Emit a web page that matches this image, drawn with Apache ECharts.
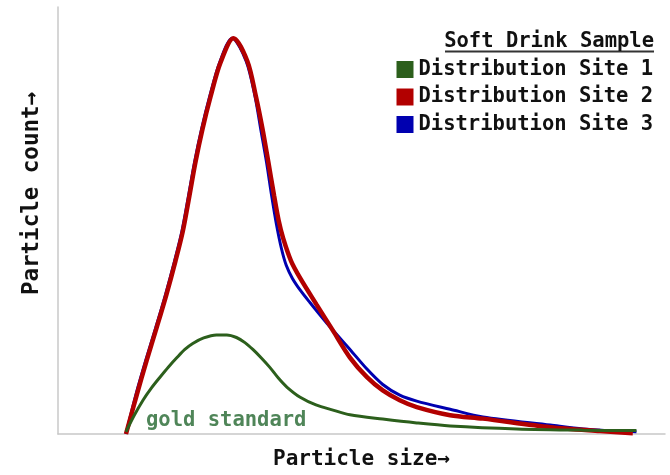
<!DOCTYPE html>
<html>
<head>
<meta charset="utf-8">
<script src="https://cdn.jsdelivr.net/npm/echarts@6/dist/echarts.min.js"></script>
<style>
html,body{margin:0;padding:0;background:#fff;}
#chart{width:670px;height:475px;}
</style>
</head>
<body>
<div id="chart"></div>
<script>
// Series names (legend order)
const seriesNames = ['Distribution Site 1', 'Distribution Site 2', 'Distribution Site 3'];
const legendTitle = 'Soft Drink Sample';
const xAxisName = 'Particle size\u2192';
const yAxisName = 'Particle count\u2192';
const annotationText = 'gold standard';

// [particle size, particle count] (arbitrary units)
const site1 = [
  [11.2,0.5],[12.5,4.2],[14.0,7.9],[15.4,10.8],[16.8,13.3],[18.2,15.7],[19.6,17.9],
  [20.9,19.8],[22.2,21.2],[24.0,22.5],[26.1,23.2],[27.8,23.2],[29.4,22.6],[30.8,21.4],
  [32.1,19.8],[33.5,17.8],[34.9,15.6],[36.3,13.1],[37.7,11.0],[39.9,8.6],[42.5,6.8],
  [45.3,5.6],[48.1,4.5],[53.5,3.5],[59.1,2.6],[64.6,1.9],[75.6,1.2],[86.5,0.9],[95.3,0.8]
];
const site2 = [
  [11.2,0],[13.0,9.3],[14.6,17.2],[16.25,24.9],[17.85,32.6],[19.35,40.5],[20.55,47.4],
  [21.65,55.8],[22.65,63.7],[23.8,71.4],[25.15,79.1],[26.75,86.9],[28.9,92.7],[31.2,87.3],
  [32.6,79.1],[33.7,71.4],[34.65,63.7],[35.6,55.8],[36.35,50.0],[37.1,45.8],[38.4,40.5],
  [39.9,36.5],[42.6,30.3],[45.3,24.2],[48.1,17.9],[50.9,13.3],[53.5,10.2],[56.3,7.9],
  [59.1,6.3],[64.6,4.4],[70.0,3.6],[81.1,1.6],[89.3,0.7],[94.7,0.2]
];
const site3 = [
  [11.2,0],[12.85,9.3],[14.45,17.2],[16.1,24.9],[17.7,32.6],[19.2,40.5],[20.4,47.4],
  [21.5,55.8],[22.5,63.7],[23.65,71.4],[25.0,79.1],[26.6,86.9],[28.7,92.7],[31.0,87.3],
  [32.45,79.1],[33.4,71.4],[34.35,63.7],[35.2,55.8],[36.0,49.0],[36.8,43.5],[37.6,39.5],
  [38.6,36.5],[40.0,33.5],[41.5,30.8],[44.8,25.1],[48.1,19.8],[50.9,15.2],[53.5,11.6],
  [56.3,9.1],[59.1,7.7],[64.6,5.8],[70.0,4.0],[81.1,2.1],[86.5,1.2],[95.3,0.5]
];

const colors = { s1: '#2c5f1c', s2: '#b20000', s3: '#0000b0' };
const FONT = '"DejaVu Sans Mono", monospace';

const chart = echarts.init(document.getElementById('chart'), null, { renderer: 'canvas' });

chart.setOption({
  backgroundColor: '#ffffff',
  animation: false,
  title: {
    text: legendTitle,
    right: 11,
    top: 26,
    textStyle: { fontFamily: FONT, fontWeight: 'bold', fontSize: 20.5, color: '#111' }
  },
  legend: {
    orient: 'vertical',
    right: 12,
    top: 54,
    itemWidth: 17,
    itemHeight: 17,
    itemGap: 6.5,
    icon: 'rect',
    data: seriesNames,
    textStyle: { fontFamily: FONT, fontWeight: 'bold', fontSize: 20.5, color: '#111', lineHeight: 20 }
  },
  grid: { left: 58, right: 5, top: 7, bottom: 38, containLabel: false },
  xAxis: {
    type: 'value',
    min: 0,
    max: 100,
    name: xAxisName,
    nameLocation: 'middle',
    nameGap: 15,
    nameTextStyle: { fontFamily: FONT, fontWeight: 'bold', fontSize: 21, color: '#111' },
    axisLine: { show: true, lineStyle: { color: '#c8c8c8', width: 1.5 } },
    axisTick: { show: false },
    axisLabel: { show: false },
    splitLine: { show: false }
  },
  yAxis: {
    type: 'value',
    min: 0,
    max: 100,
    name: yAxisName,
    nameLocation: 'middle',
    nameGap: 14,
    nameRotate: 90,
    nameTextStyle: { fontFamily: FONT, fontWeight: 'bold', fontSize: 22.5, color: '#111', padding: [0, 0, 0, 54] },
    axisLine: { show: true, lineStyle: { color: '#c8c8c8', width: 1.5 } },
    axisTick: { show: false },
    axisLabel: { show: false },
    splitLine: { show: false }
  },
  series: [
    {
      name: seriesNames[2], type: 'line', data: site3, smooth: 0.3, symbol: 'none', z: 2,
      itemStyle: { color: colors.s3 },
      lineStyle: { color: colors.s3, width: 3 }
    },
    {
      name: seriesNames[1], type: 'line', data: site2, smooth: 0.3, symbol: 'none', z: 3,
      itemStyle: { color: colors.s2 },
      lineStyle: { color: colors.s2, width: 4.5 }
    },
    {
      name: seriesNames[0], type: 'line', data: site1, smooth: 0.3, symbol: 'none', z: 4,
      itemStyle: { color: colors.s1 },
      lineStyle: { color: colors.s1, width: 3 }
    }
  ],
  graphic: [
    {
      type: 'line',
      shape: { x1: 445, y1: 51.5, x2: 654, y2: 51.5 },
      style: { stroke: '#333', lineWidth: 2 }
    },
    {
      type: 'text',
      left: 146,
      top: 410,
      style: {
        text: annotationText,
        fontFamily: FONT,
        fontWeight: 'bold',
        fontSize: 20.5,
        fill: '#4f8558'
      }
    }
  ]
});
</script>
</body>
</html>
